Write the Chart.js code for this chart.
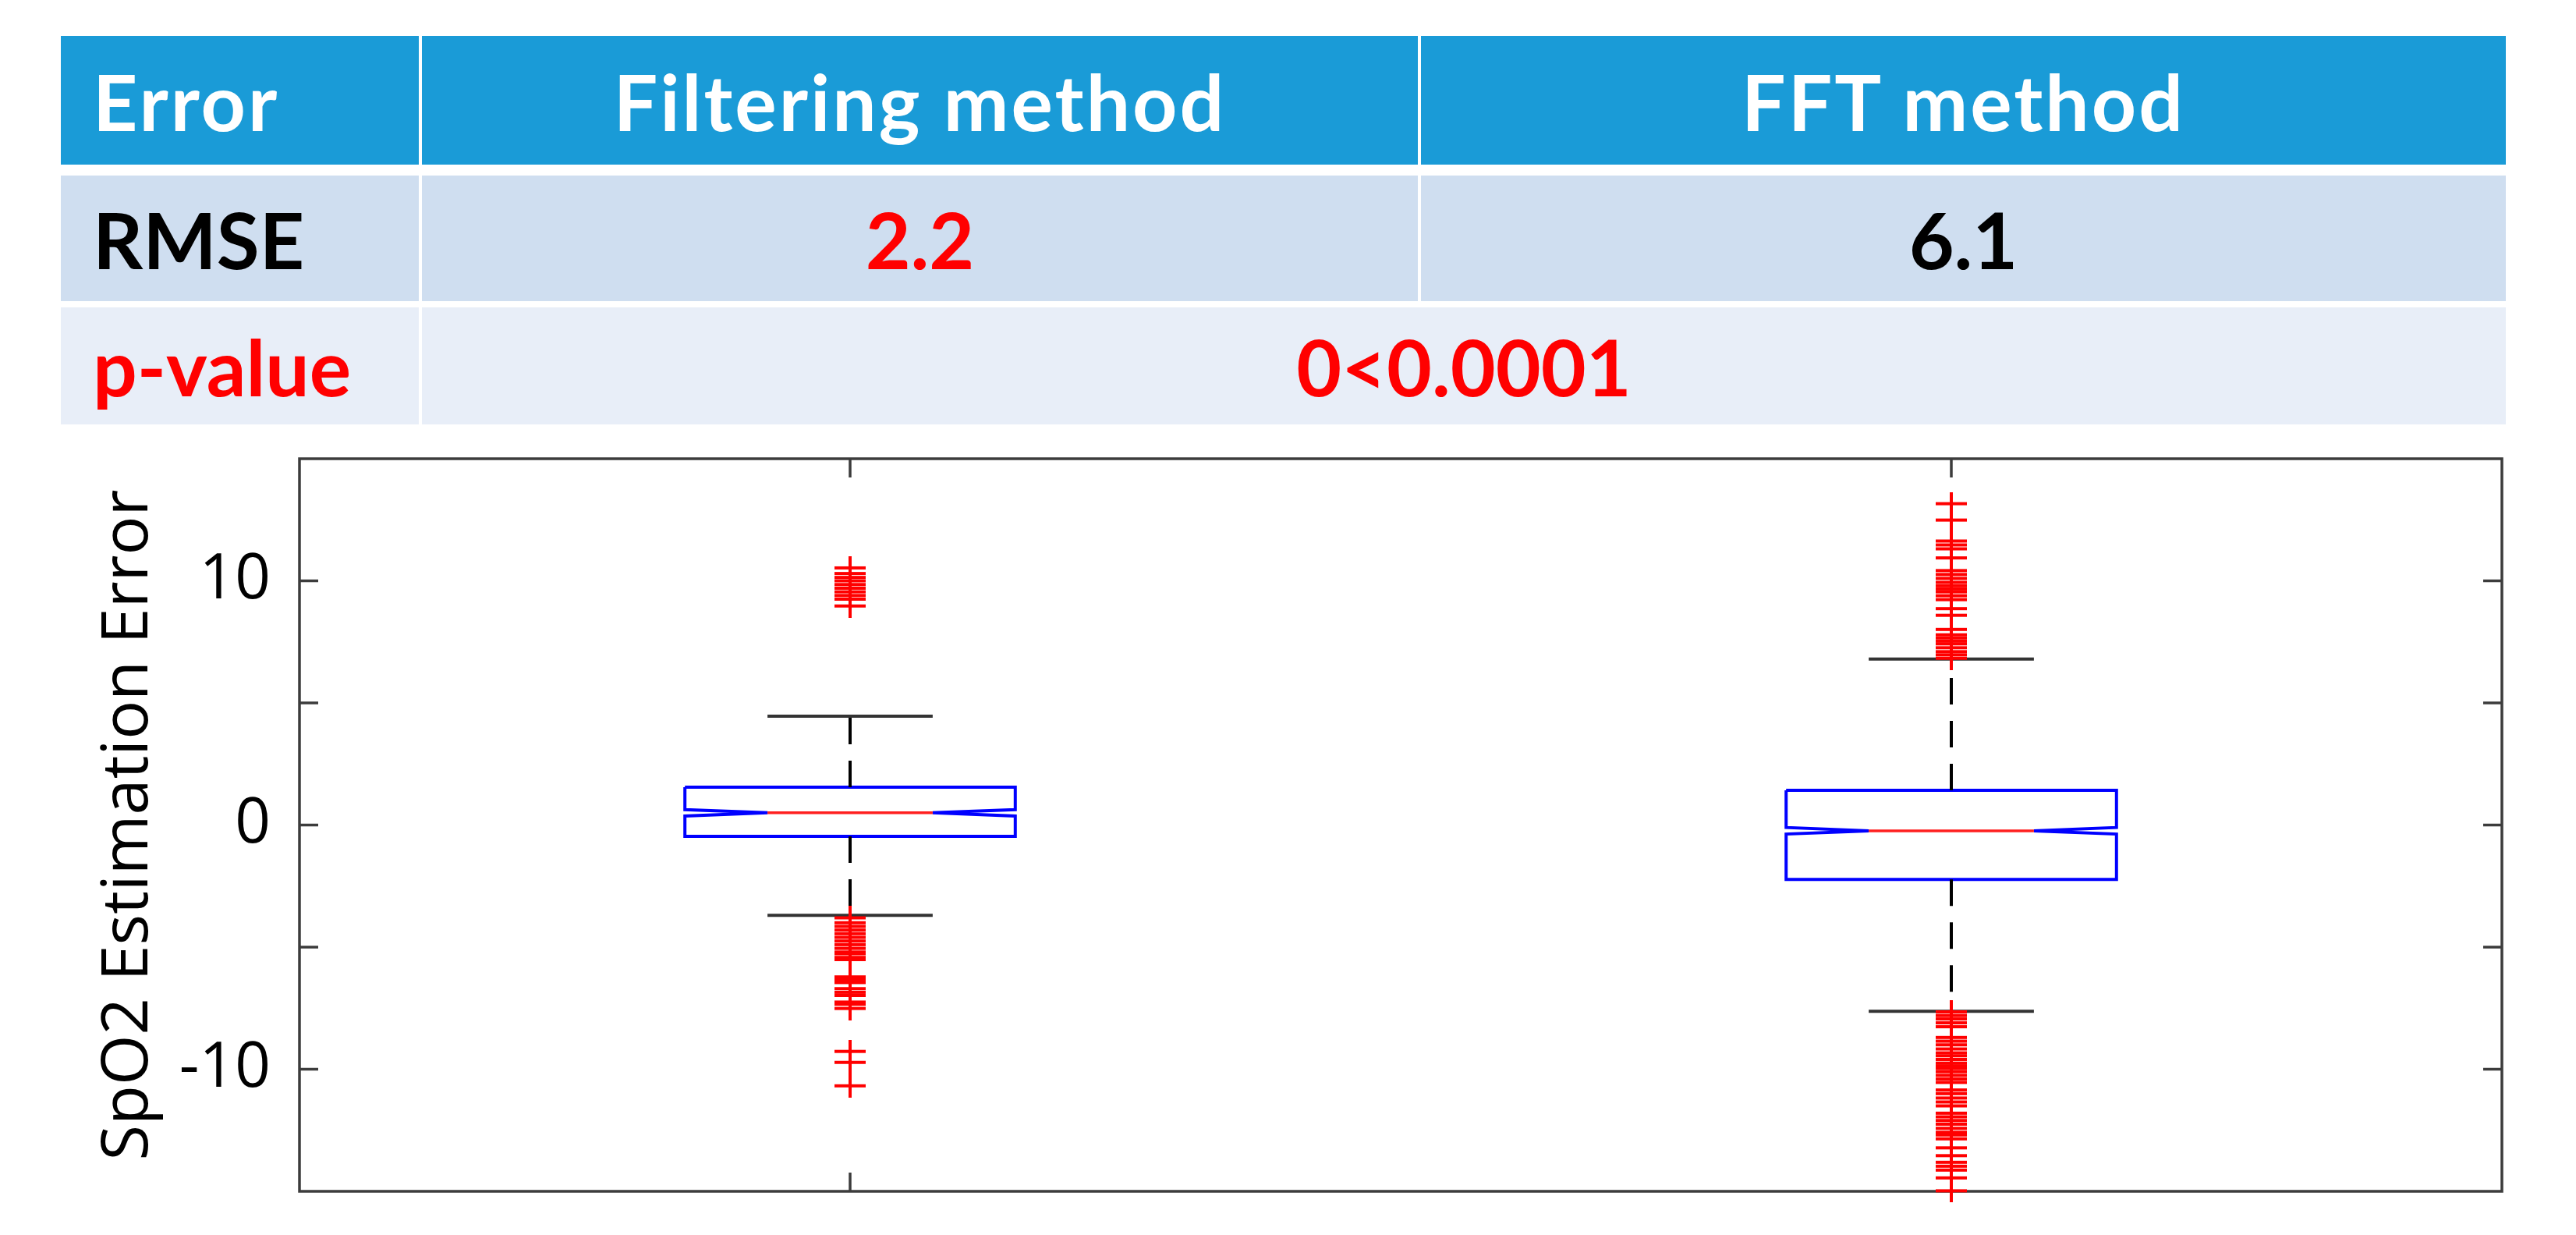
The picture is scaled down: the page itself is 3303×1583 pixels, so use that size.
<!DOCTYPE html>
<html>
<head>
<meta charset="utf-8">
<script src="https://cdn.jsdelivr.net/npm/chart.js@4.4.1/dist/chart.umd.min.js"></script>
<style>
  html, body { margin: 0; padding: 0; background: #fff; }
  body { width: 3303px; height: 1583px; position: relative; overflow: hidden; }
  .cell {
    position: absolute; display: flex; align-items: center; box-sizing: border-box;
    font-family: Lato, "Open Sans", sans-serif; font-weight: 700; font-size: 100px; color: #000;
  }
  .hdr { background: #1a9bd7; color: #fff; letter-spacing: 3px; }
  .r2 { background: #cfdef0; }
  .r3 { background: #e8eef8; }
  .left { padding-left: 41px; }
  .mid { justify-content: center; }
  .red { color: #ff0000; }
  #plot { position: absolute; left: 0; top: 560px; width: 3303px; height: 1023px; }
</style>
</head>
<body>
<div id="table"></div>
<div id="plot"><canvas id="chart"></canvas></div>
<script>
// table content
const headerLabels = ['Error', 'Filtering method', 'FFT method'];
const rmseLabel = 'RMSE';
const rmseValues = ['2.2', '6.1'];
const pLabel = 'p-value';
const pValue = '0<0.0001';

// boxplot stats, one entry per method
const categories = ['Filtering method', 'FFT method'];
const positions = [1, 2];
const lowerQuartile = [-0.46, -2.23];
const medians = [0.5, -0.24];
const upperQuartile = [1.55, 1.42];
const notchLow = [0.37, -0.37];
const notchHigh = [0.63, -0.1];
const whiskerLow = [-3.7, -7.63];
const whiskerHigh = [4.46, 6.8];

const outliersFiltering = [10.53, 10.3, 10.14, 10.0, 9.85, 9.7, 9.55, 9.4, 9.25, 8.97,
  -3.8, -4.0, -4.15, -4.3, -4.45, -4.6, -4.75, -4.9, -5.05, -5.2, -5.27, -5.42, -5.51,
  -6.22, -6.34, -6.45, -6.7, -6.85, -6.98, -7.25, -7.34, -7.51, -9.27, -9.72, -10.68];
const outliersFFT = [13.16, 12.49, 11.63, 11.47, 11.31, 10.94, 10.42, 10.26, 10.1, 9.94,
  9.8, 9.67, 9.55, 9.39, 9.23, 8.86, 8.59, 8.01, 7.79, 7.66, 7.53, 7.42, 7.26, 7.1, 6.97, 6.83,
  -7.65, -7.8, -7.94, -8.1, -8.26, -8.7, -8.85, -9.0, -9.17, -9.33, -9.45, -9.6, -9.75, -9.86,
  -9.97, -10.1, -10.25, -10.4, -10.54, -10.85, -11.0, -11.18, -11.34, -11.5, -11.8, -11.95,
  -12.1, -12.25, -12.42, -12.58, -12.69, -12.85, -13.22, -13.54, -13.81, -13.97, -14.13,
  -14.45, -14.98];

const yTicks = [-15, -10, -5, 0, 5, 10, 15];
const yTickLabels = ['', '-10', '', '0', '', '10', ''];

// ---- table ----
function cell(cls, left, top, w, h, text) {
  const d = document.createElement('div');
  d.className = 'cell ' + cls;
  d.style.left = left + 'px'; d.style.top = top + 'px';
  d.style.width = w + 'px'; d.style.height = h + 'px';
  d.textContent = text;
  document.getElementById('table').appendChild(d);
}
cell('hdr left', 78, 46, 459, 165, headerLabels[0]);
cell('hdr mid', 541, 46, 1277, 165, headerLabels[1]);
cell('hdr mid', 1822, 46, 1391, 165, headerLabels[2]);
cell('r2 left', 78, 225, 459, 161, rmseLabel);
cell('r2 mid red', 541, 225, 1277, 161, rmseValues[0]);
cell('r2 mid', 1822, 225, 1391, 161, rmseValues[1]);
cell('r3 left red', 78, 394, 459, 150, pLabel);
cell('r3 mid red', 541, 394, 2672, 150, pValue);

// ---- boxplot ----
const BOX_HALF = 0.15, NOTCH_HALF = 0.075;
const boxPts = [], whiskerPts = [], capPts = [], medianPts = [];
positions.forEach((p, i) => {
  boxPts.push(
    {x: p - BOX_HALF, y: upperQuartile[i]}, {x: p + BOX_HALF, y: upperQuartile[i]},
    {x: p + BOX_HALF, y: notchHigh[i]}, {x: p + NOTCH_HALF, y: medians[i]},
    {x: p + BOX_HALF, y: notchLow[i]}, {x: p + BOX_HALF, y: lowerQuartile[i]},
    {x: p - BOX_HALF, y: lowerQuartile[i]}, {x: p - BOX_HALF, y: notchLow[i]},
    {x: p - NOTCH_HALF, y: medians[i]}, {x: p - BOX_HALF, y: notchHigh[i]},
    {x: p - BOX_HALF, y: upperQuartile[i]}, {x: p, y: null});
  whiskerPts.push({x: p, y: upperQuartile[i]}, {x: p, y: whiskerHigh[i]}, {x: p, y: null},
    {x: p, y: lowerQuartile[i]}, {x: p, y: whiskerLow[i]}, {x: p, y: null});
  capPts.push({x: p - NOTCH_HALF, y: whiskerHigh[i]}, {x: p + NOTCH_HALF, y: whiskerHigh[i]}, {x: p, y: null},
    {x: p - NOTCH_HALF, y: whiskerLow[i]}, {x: p + NOTCH_HALF, y: whiskerLow[i]}, {x: p, y: null});
  medianPts.push({x: p - NOTCH_HALF, y: medians[i]}, {x: p + NOTCH_HALF, y: medians[i]}, {x: p, y: null});
});
const outlierPts = outliersFiltering.map(v => ({x: positions[0], y: v}))
  .concat(outliersFFT.map(v => ({x: positions[1], y: v})));

function plusMarker() {
  const c = document.createElement('canvas');
  c.width = 42; c.height = 30;
  const g = c.getContext('2d');
  g.strokeStyle = '#ff0000';
  g.lineWidth = 4;
  g.beginPath();
  g.moveTo(1, 15); g.lineTo(41, 15);
  g.moveTo(21, 0); g.lineTo(21, 30);
  g.stroke();
  return c;
}

const line = (data, color, width, dash) => ({
  data: data, showLine: true, borderColor: color, borderWidth: width,
  borderDash: dash || [], pointRadius: 0, fill: false, tension: 0, borderCapStyle: 'butt'
});

// frame and inward ticks like MATLAB
const axesFrame = {
  id: 'axesFrame',
  beforeDatasetsDraw(chart) {
    const {ctx, chartArea: a, scales: {x, y}} = chart;
    ctx.save();
    ctx.strokeStyle = '#3c3c3c';
    ctx.lineWidth = 3.5;
    ctx.strokeRect(a.left, a.top, a.right - a.left, a.bottom - a.top);
    ctx.beginPath();
    yTicks.forEach(v => {
      if (Math.abs(v) >= 15) return;
      const py = y.getPixelForValue(v);
      ctx.moveTo(a.left, py); ctx.lineTo(a.left + 24, py);
      ctx.moveTo(a.right, py); ctx.lineTo(a.right - 24, py);
    });
    positions.forEach(p => {
      const px = x.getPixelForValue(p);
      ctx.moveTo(px, a.top); ctx.lineTo(px, a.top + 24);
      ctx.moveTo(px, a.bottom); ctx.lineTo(px, a.bottom - 24);
    });
    ctx.stroke();
    ctx.restore();
  }
};

new Chart(document.getElementById('chart'), {
  type: 'scatter',
  data: {
    datasets: [
      {data: outlierPts, pointStyle: plusMarker(), pointRadius: 20, showLine: false, clip: false},
      line(medianPts, '#ff2020', 3.5),
      line(capPts, '#333333', 4),
      line(whiskerPts, '#000000', 4, [34, 21]),
      line(boxPts, '#0000ff', 4)
    ]
  },
  options: {
    responsive: true,
    maintainAspectRatio: false,
    animation: false,
    layout: {padding: {left: 0, top: 28, right: 95, bottom: 56}},
    plugins: {legend: {display: false}, tooltip: {enabled: false}},
    scales: {
      x: {type: 'linear', min: 0.5, max: 2.5, display: false},
      y: {
        type: 'linear', min: -15, max: 15,
        afterBuildTicks: s => { s.ticks = yTicks.map(v => ({value: v})); },
        afterFit: s => { s.width = 384; s.paddingTop = 0; s.paddingBottom = 0; },
        grid: {display: false, drawTicks: false},
        border: {display: false},
        ticks: {
          padding: 37, color: '#000',
          font: {family: '"Open Sans"', size: 80},
          callback: v => yTickLabels[yTicks.indexOf(v)]
        },
        title: {
          display: true, text: 'SpO2 Estimation Error', color: '#000',
          font: {family: '"Open Sans"', size: 83},
          padding: {top: 116, bottom: 0}
        }
      }
    }
  },
  plugins: [axesFrame]
});
</script>
</body>
</html>
